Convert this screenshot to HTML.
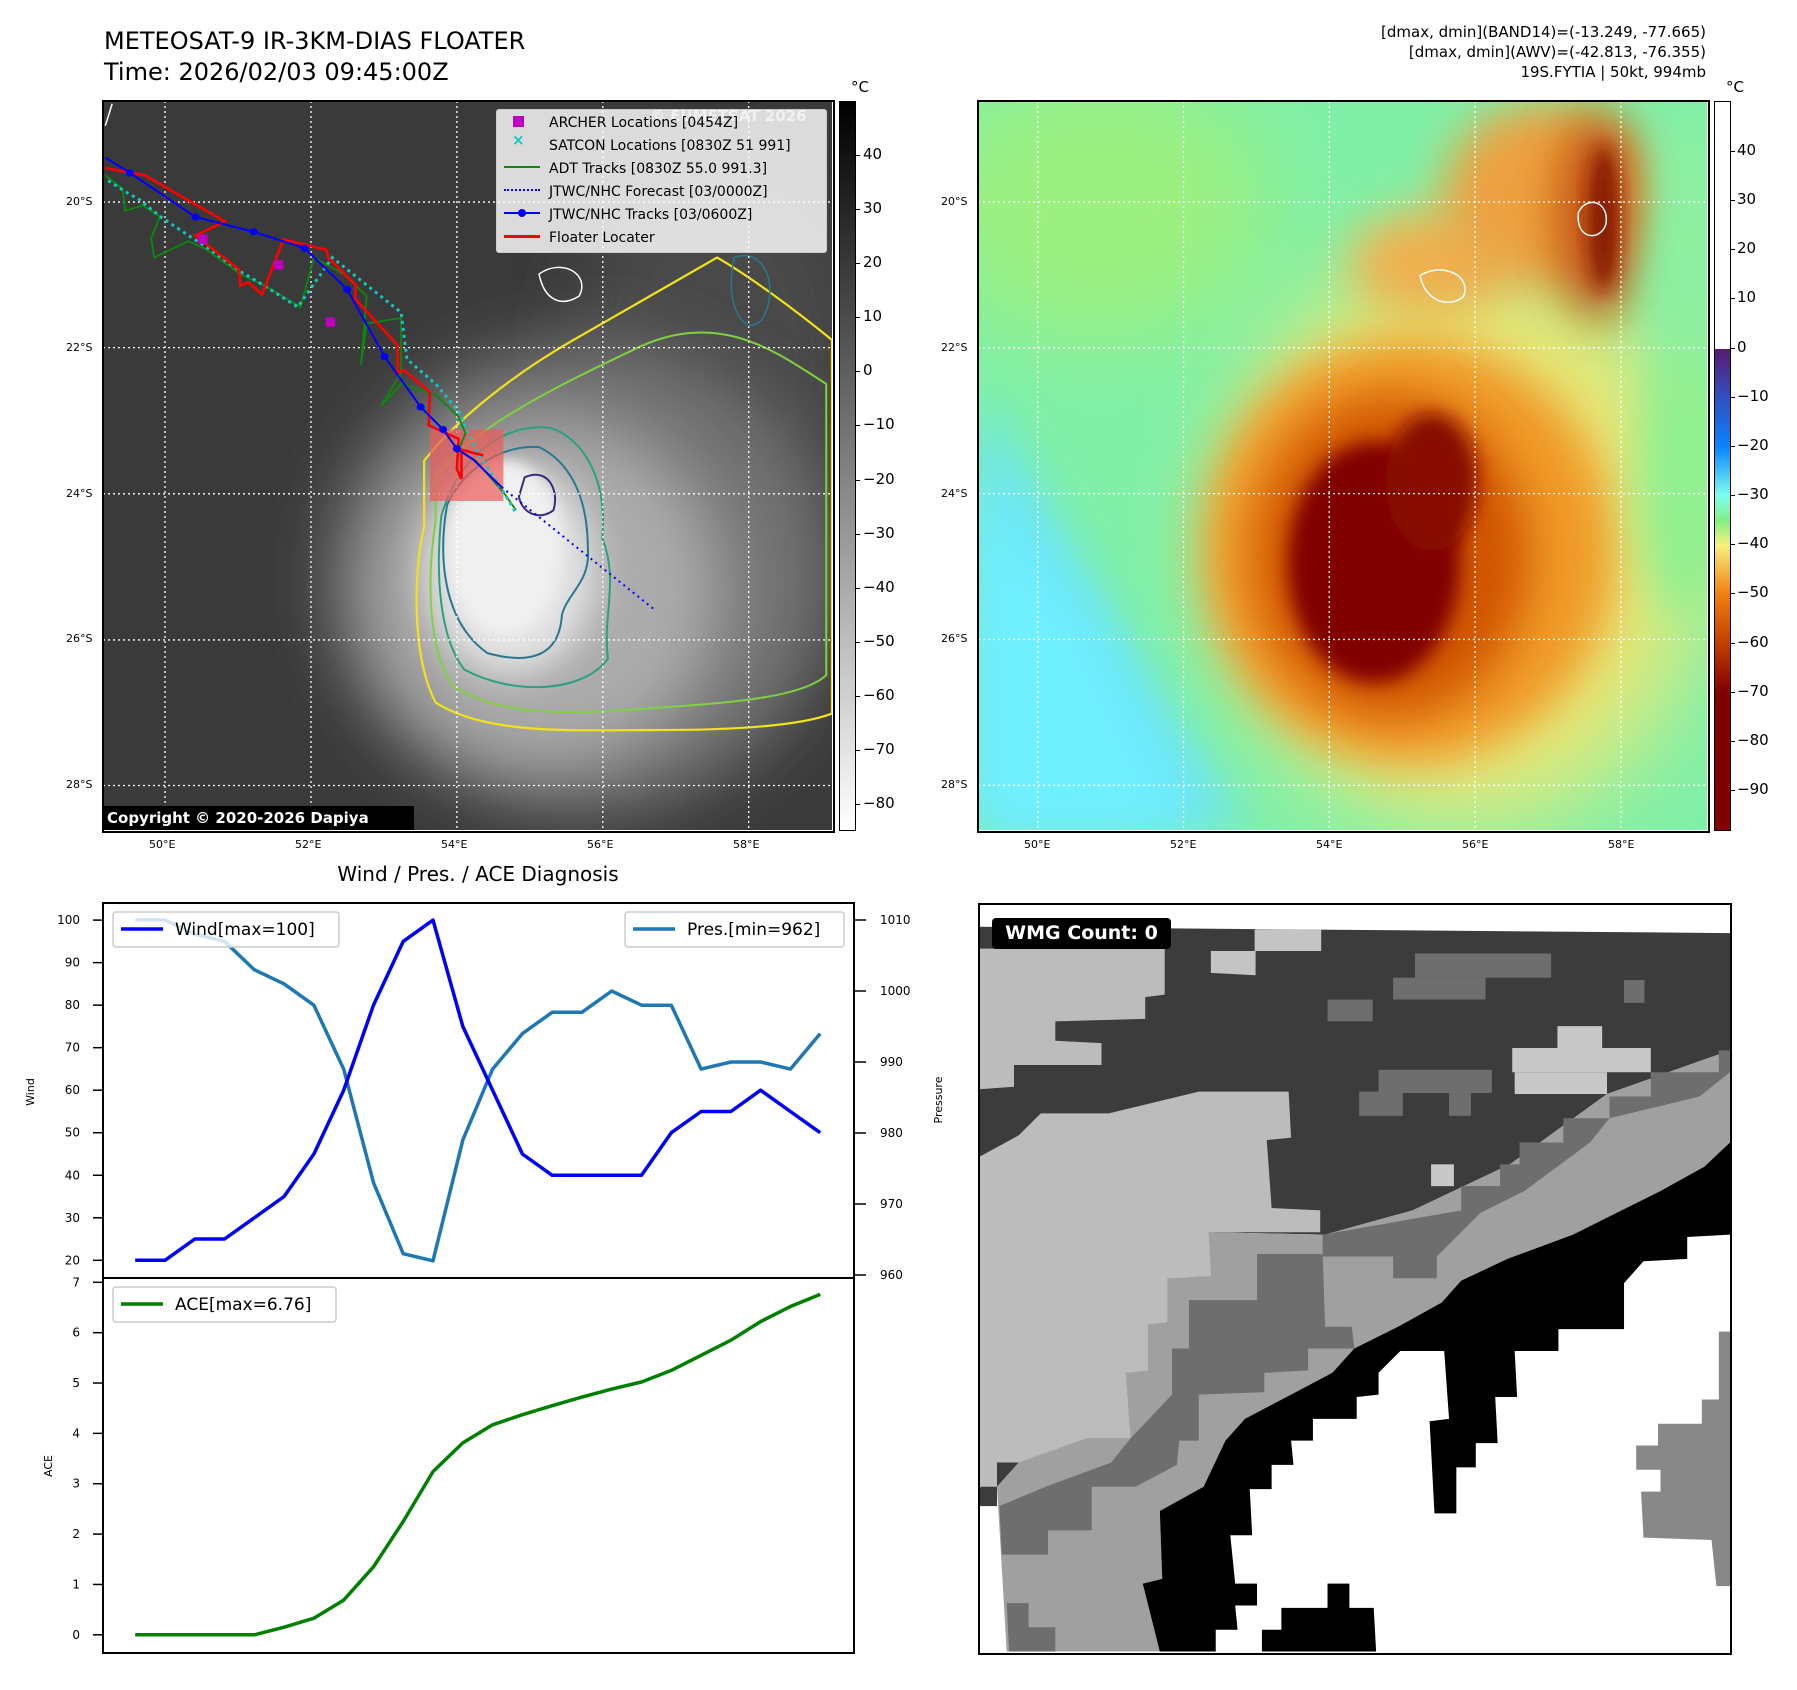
<!DOCTYPE html>
<html><head><meta charset="utf-8">
<style>
html,body{margin:0;padding:0;background:#fff;}
body{width:1797px;height:1690px;position:relative;overflow:hidden;font-family:"Liberation Sans","DejaVu Sans",sans-serif;color:#000;}
.abs{position:absolute;}
.t{position:absolute;white-space:nowrap;font-family:"DejaVu Sans","Liberation Sans",sans-serif;}
</style></head><body>

<div class="t" style="left:104px;top:26px;font-size:24px;line-height:31px;">METEOSAT-9 IR-3KM-DIAS FLOATER<br>Time: 2026/02/03 09:45:00Z</div>
<div class="t" style="right:91px;top:22px;font-size:15px;line-height:20px;text-align:right;">[dmax, dmin](BAND14)=(-13.249, -77.665)<br>[dmax, dmin](AWV)=(-42.813, -76.355)<br>19S.FYTIA | 50kt, 994mb</div>

<!-- LEFT MAP -->
<svg class="abs" style="left:103px;top:101px;" width="729" height="729" viewBox="181 185 1269 1327" preserveAspectRatio="none">
<defs>
<filter id="b60" x="-50%" y="-50%" width="200%" height="200%"><feGaussianBlur stdDeviation="60"/></filter>
<filter id="b30" x="-50%" y="-50%" width="200%" height="200%"><feGaussianBlur stdDeviation="30"/></filter>
<filter id="b12" x="-50%" y="-50%" width="200%" height="200%"><feGaussianBlur stdDeviation="12"/></filter>
</defs>
<rect x="181" y="185" width="1269" height="1327" fill="#3a3a3a"/>
<ellipse cx="1250" cy="650" rx="250" ry="350" fill="#4a4a4a" filter="url(#b60)"/>
<ellipse cx="1020" cy="1050" rx="440" ry="430" fill="#727272" filter="url(#b60)"/>
<ellipse cx="950" cy="1080" rx="310" ry="320" fill="#acacac" filter="url(#b60)"/>
<ellipse cx="890" cy="1040" rx="150" ry="190" fill="#e2e2e2" filter="url(#b30)"/>
<ellipse cx="880" cy="1000" rx="100" ry="160" fill="#f0f0f0" filter="url(#b12)"/>
<g fill="none">
<path d="M740,960 C720,1050 720,1200 760,1280 C850,1340 1000,1330 1150,1330 C1300,1330 1400,1320 1450,1300 L1450,620 C1380,560 1300,500 1250,470 C1200,500 1100,560 1000,620 C900,680 800,760 740,840 Z" stroke="#f2e21a" stroke-width="2.2" vector-effect="non-scaling-stroke"/>
<path d="M760,950 C745,1050 745,1180 790,1250 C880,1310 1010,1300 1140,1290 C1280,1280 1400,1270 1440,1230 L1440,700 C1350,640 1250,560 1100,640 C980,700 820,780 760,870 Z" stroke="#80d040" stroke-width="2" vector-effect="non-scaling-stroke"/>
<path d="M770,940 C760,1040 765,1160 810,1220 C900,1270 1020,1260 1060,1200 C1050,1120 1080,1060 1050,980 C1060,880 1020,800 960,780 C880,770 800,830 770,940 Z" stroke="#2aa082" stroke-width="2" vector-effect="non-scaling-stroke"/>
<path d="M780,920 C765,1010 770,1130 850,1190 C920,1210 975,1200 980,1120 C990,1080 1030,1060 1025,1000 C1025,900 990,840 940,815 C880,810 810,850 780,920 Z" stroke="#2a7890" stroke-width="2" vector-effect="non-scaling-stroke"/>
<path d="M915,870 C960,850 975,900 965,930 C940,950 910,935 905,905 Z" stroke="#3a2a80" stroke-width="2" vector-effect="non-scaling-stroke"/>
<path d="M940,500 C980,470 1030,500 1010,540 C980,560 950,550 940,500 Z" stroke="#ffffff" stroke-width="1.5" vector-effect="non-scaling-stroke"/>
<path d="M1280,470 C1330,450 1360,520 1330,580 C1300,620 1260,560 1280,470 Z" stroke="#2a7890" stroke-width="1.5" vector-effect="non-scaling-stroke"/>
</g>
<g stroke="#fff" stroke-width="1.3" stroke-dasharray="2,3">
<line x1="289" y1="185" x2="289" y2="1512" vector-effect="non-scaling-stroke"/>
<line x1="543" y1="185" x2="543" y2="1512" vector-effect="non-scaling-stroke"/>
<line x1="797" y1="185" x2="797" y2="1512" vector-effect="non-scaling-stroke"/>
<line x1="1051" y1="185" x2="1051" y2="1512" vector-effect="non-scaling-stroke"/>
<line x1="1305" y1="185" x2="1305" y2="1512" vector-effect="non-scaling-stroke"/>
<line x1="181" y1="369" x2="1450" y2="369" vector-effect="non-scaling-stroke"/>
<line x1="181" y1="634" x2="1450" y2="634" vector-effect="non-scaling-stroke"/>
<line x1="181" y1="900" x2="1450" y2="900" vector-effect="non-scaling-stroke"/>
<line x1="181" y1="1166" x2="1450" y2="1166" vector-effect="non-scaling-stroke"/>
<line x1="181" y1="1431" x2="1450" y2="1431" vector-effect="non-scaling-stroke"/>
</g>
<rect x="750" y="783" width="128" height="130" fill="rgba(240,90,90,0.7)"/>
<polyline fill="none" stroke="#0a8a0a" stroke-width="1.8" vector-effect="non-scaling-stroke" points="185,320 215,345 220,385 250,375 280,395 265,435 270,470 330,440 360,455 420,500 460,520 525,560 548,470 600,500 640,540 630,665 640,590 700,580 700,680 665,740 700,700 760,720 800,760 812,790 800,820 830,840 880,900 900,930"/>
<polyline fill="none" stroke="#10c8c0" stroke-width="3" stroke-dasharray="3,4" vector-effect="non-scaling-stroke" points="190,330 220,350 245,365 280,395 330,430 360,450 420,495 460,520 520,560 580,470 640,520 700,570 710,655 760,700 800,750 830,820 880,900 900,935"/>
<polyline fill="none" stroke="#f00" stroke-width="2.6" vector-effect="non-scaling-stroke" points="185,307 253,320 393,404 342,430 418,492 420,521 434,515 458,537 495,437 570,456 573,470 621,520 620,545 694,630 694,680 705,675 750,715 748,775 800,800 797,855 805,873 805,820 843,830"/>
<polyline fill="none" stroke="#0000ff" stroke-width="2" vector-effect="non-scaling-stroke" points="185,288 228,316 342,396 443,423 532,453 606,528 671,650 734,742 773,783 797,818 826,838 875,888"/>
<g fill="#0000ff">
<ellipse cx="228" cy="316" rx="7" ry="6.5"/><ellipse cx="342" cy="396" rx="7" ry="6.5"/><ellipse cx="443" cy="423" rx="7" ry="6.5"/><ellipse cx="532" cy="453" rx="7" ry="6.5"/><ellipse cx="606" cy="528" rx="7" ry="6.5"/><ellipse cx="671" cy="650" rx="7" ry="6.5"/><ellipse cx="734" cy="742" rx="7" ry="6.5"/><ellipse cx="773" cy="783" rx="7" ry="6.5"/><ellipse cx="797" cy="818" rx="7" ry="6.5"/>
</g>
<line x1="875" y1="888" x2="1140" y2="1110" stroke="#0000ff" stroke-width="2" stroke-dasharray="2,4" vector-effect="non-scaling-stroke"/>
<g fill="#c000c0"><rect x="479" y="475" width="16" height="17"/><rect x="569" y="579" width="16" height="17"/><rect x="347" y="428" width="16" height="17"/></g>
<path d="M197,190 L185,230" stroke="#fff" stroke-width="1.5" vector-effect="non-scaling-stroke"/>
</svg>

<div class="t" style="left:650px;top:107px;font-size:15px;font-weight:bold;color:rgba(255,255,255,0.6);">© EUMETSAT 2026</div>
<div class="abs" style="left:496px;top:109px;width:329px;height:142px;background:rgba(255,255,255,0.82);border:1px solid #ccc;border-radius:3px;"></div>
<div class="abs" style="left:513px;top:116px;width:11px;height:11px;background:#c000c0;"></div>
<div class="t" style="left:512px;top:131px;font-size:15px;color:#10c8c0;font-weight:bold;">×</div>
<div class="abs" style="left:504px;top:166px;width:36px;height:2px;background:#0a8a0a;"></div>
<div class="abs" style="left:504px;top:189px;width:36px;height:0;border-top:2px dotted #00f;"></div>
<div class="abs" style="left:504px;top:212px;width:36px;height:2px;background:#00f;"></div>
<div class="abs" style="left:518px;top:209px;width:8px;height:8px;border-radius:50%;background:#00f;"></div>
<div class="abs" style="left:504px;top:235px;width:36px;height:3px;background:#f00;"></div>
<div class="t" style="left:549px;top:112px;font-size:14px;line-height:23px;">ARCHER Locations [0454Z]<br>SATCON Locations [0830Z 51 991]<br>ADT Tracks [0830Z 55.0 991.3]<br>JTWC/NHC Forecast [03/0000Z]<br>JTWC/NHC Tracks [03/0600Z]<br>Floater Locater</div>
<div class="t" style="left:103px;top:806px;height:24px;width:311px;background:#000;color:#fff;font-weight:bold;font-size:15px;line-height:24px;padding-left:4px;box-sizing:border-box;">Copyright © 2020-2026 Dapiya</div>
<div class="abs" style="left:102px;top:100px;width:729px;height:729px;border:2px solid #000;"></div>

<div class="abs" style="left:839px;top:101px;width:15px;height:728px;border:1px solid #000;background:linear-gradient(#000,#fff);"></div>
<div class="t" style="left:851px;top:78px;font-size:15px;">°C</div>

<!-- RIGHT MAP -->
<svg class="abs" style="left:978px;top:101px;" width="729" height="729" viewBox="855 88 635 635" preserveAspectRatio="none">
<defs>
<filter id="c40" x="-50%" y="-50%" width="200%" height="200%"><feGaussianBlur stdDeviation="40"/></filter>
<filter id="c20" x="-50%" y="-50%" width="200%" height="200%"><feGaussianBlur stdDeviation="20"/></filter>
<filter id="c8" x="-50%" y="-50%" width="200%" height="200%"><feGaussianBlur stdDeviation="8"/></filter>
</defs>
<rect x="855" y="88" width="635" height="635" fill="#80f0a8"/>
<ellipse cx="960" cy="180" rx="150" ry="120" fill="#9cf080" filter="url(#c40)"/>
<polygon points="855,340 920,450 1010,600 1090,723 855,723" fill="#6ce4f8" filter="url(#c20)"/>
<polygon points="855,420 960,560 1040,723 855,723" fill="#70f0ff" filter="url(#c20)"/>
<ellipse cx="1280" cy="470" rx="210" ry="250" fill="#e8e878" filter="url(#c40)"/>
<ellipse cx="1250" cy="230" rx="70" ry="45" fill="#f0b050" filter="url(#c20)"/>
<ellipse cx="1350" cy="170" rx="90" ry="80" fill="#eea040" filter="url(#c20)"/>
<ellipse cx="1230" cy="480" rx="180" ry="185" fill="#f09a28" filter="url(#c20)"/>
<ellipse cx="1215" cy="485" rx="120" ry="140" fill="#d05400" filter="url(#c20)"/>
<ellipse cx="1200" cy="490" rx="75" ry="105" fill="#800000" filter="url(#c8)"/>
<ellipse cx="1250" cy="420" rx="40" ry="60" fill="#880800" filter="url(#c8)"/>
<ellipse cx="1395" cy="190" rx="35" ry="90" fill="#c05010" filter="url(#c20)"/>
<ellipse cx="1400" cy="190" rx="12" ry="65" fill="#801800" filter="url(#c8)"/>
<ellipse cx="1475" cy="220" rx="30" ry="120" fill="#90f0a0" filter="url(#c20)"/>
<ellipse cx="1470" cy="420" rx="40" ry="120" fill="#90f090" filter="url(#c20)"/>
<path d="M1240,240 C1260,228 1285,240 1278,258 C1268,268 1245,265 1240,240 Z" fill="none" stroke="#fff" stroke-width="1.5" vector-effect="non-scaling-stroke"/>
<path d="M1378,185 C1385,170 1405,175 1402,195 C1398,210 1375,210 1378,185 Z" fill="none" stroke="#fff" stroke-width="1.5" vector-effect="non-scaling-stroke"/>
<g stroke="#fff" stroke-width="1.3" stroke-dasharray="2,3">
<line x1="907" y1="88" x2="907" y2="723" vector-effect="non-scaling-stroke"/>
<line x1="1034" y1="88" x2="1034" y2="723" vector-effect="non-scaling-stroke"/>
<line x1="1161" y1="88" x2="1161" y2="723" vector-effect="non-scaling-stroke"/>
<line x1="1288" y1="88" x2="1288" y2="723" vector-effect="non-scaling-stroke"/>
<line x1="1415" y1="88" x2="1415" y2="723" vector-effect="non-scaling-stroke"/>
<line x1="855" y1="176" x2="1490" y2="176" vector-effect="non-scaling-stroke"/>
<line x1="855" y1="303" x2="1490" y2="303" vector-effect="non-scaling-stroke"/>
<line x1="855" y1="430" x2="1490" y2="430" vector-effect="non-scaling-stroke"/>
<line x1="855" y1="557" x2="1490" y2="557" vector-effect="non-scaling-stroke"/>
<line x1="855" y1="684" x2="1490" y2="684" vector-effect="non-scaling-stroke"/>
</g>
</svg>
<div class="abs" style="left:977px;top:100px;width:729px;height:729px;border:2px solid #000;"></div>
<div class="abs" style="left:1714px;top:101px;width:15px;height:728px;border:1px solid #000;background:linear-gradient(#fff 0%,#fff 33.9%,#5a1a70 33.9%,#3050c0 40.6%,#0a84ff 47.4%,#7ffff0 54.1%,#80f080 57.5%,#f8f080 60.9%,#f08010 67.6%,#c04000 74.4%,#800000 81.1%,#800000 100%);"></div>
<div class="t" style="left:1726px;top:78px;font-size:15px;">°C</div>

<!-- BOTTOM-RIGHT WMG -->
<svg class="abs" style="left:979px;top:904px;" width="751" height="749" viewBox="8 8 1545 1545" preserveAspectRatio="none">
<rect x="8" y="8" width="1545" height="1545" fill="#fff"/>
<polygon fill="#3c3c3c" points="8,55 1553,68 1553,310 1300,400 1100,545 900,640 720,690 480,685 395,780 355,875 310,975 320,1110 230,1110 90,1160 45,1210 45,1250 8,1250"/>
<polygon fill="#bcbcbc" points="8,100 390,100 390,195 350,200 350,245 165,250 165,290 260,295 260,340 80,340 80,385 8,390"/>
<polygon fill="#c4c4c4" points="485,105 575,105 575,60 712,60 712,105 577,105 577,155 485,150"/>
<polygon fill="#bcbcbc" points="8,530 90,485 135,440 230,440 275,440 460,395 645,395 650,490 600,495 610,635 710,640 710,685 480,685 485,775 395,780 395,870 355,875 355,970 310,975 320,1110 230,1110 90,1160 45,1160 45,1210 20,1210 8,1210"/>
<polygon fill="#a0a0a0" points="1553,310 1553,500 1500,550 1410,600 1320,645 1230,690 1095,740 1000,785 960,830 870,880 780,925 735,975 650,1020 555,1070 515,1115 470,1210 380,1260 385,1400 345,1410 400,1550 65,1550 45,1210 90,1160 230,1110 320,1110 310,975 355,970 355,875 395,870 395,780 485,775 480,685 720,690 900,640 1100,545 1300,400"/>
<polygon fill="#6e6e6e" points="715,690 1000,640 1000,590 1080,590 1080,545 1120,545 1120,500 1210,500 1210,450 1305,450 1305,405 1390,405 1390,355 1530,355 1530,310 1553,310 1553,355 1490,405 1305,450 1265,500 1130,600 1040,645 995,690 950,735 950,780 860,780 860,735 715,735"/>
<polygon fill="#6e6e6e" points="440,825 580,825 580,730 715,730 720,880 775,880 780,925 685,925 685,970 595,975 595,1015 460,1020 460,1115 420,1115 415,1165 330,1210 240,1210 240,1300 150,1300 150,1350 55,1350 50,1250 145,1210 280,1160 320,1110 405,1020 405,925 440,925"/>
<polygon fill="#6e6e6e" points="65,1450 110,1450 110,1500 165,1500 165,1550 70,1550"/>
<polygon fill="#000" points="380,1550 345,1410 385,1400 380,1260 470,1210 515,1115 555,1070 650,1020 735,975 780,925 870,880 960,830 1000,785 1095,740 1230,690 1320,645 1410,600 1500,550 1553,500 1553,690 1465,695 1465,740 1375,745 1335,790 1335,885 1200,885 1200,930 1110,930 1115,1025 1070,1025 1075,1120 1030,1120 1030,1170 990,1170 990,1265 945,1265 935,1075 975,1070 965,930 875,930 830,975 830,1020 785,1025 785,1070 695,1070 695,1115 650,1115 655,1165 610,1165 610,1215 565,1215 570,1310 525,1310 535,1410 580,1410 580,1455 535,1455 540,1505 495,1505 495,1550"/>
<polygon fill="#000" points="630,1460 725,1460 725,1410 770,1410 770,1460 820,1460 825,1550 590,1550 590,1505 630,1505"/>
<polygon fill="#888" points="1495,1030 1553,1030 1553,1415 1525,1415 1515,1320 1375,1315 1370,1220 1410,1220 1410,1175 1360,1175 1360,1125 1405,1125 1405,1080 1495,1080"/>
<polygon fill="#888" points="1530,890 1553,890 1553,1030 1530,1030"/>
<g fill="#6e6e6e"><rect x="905" y="110" width="280" height="50"/><rect x="860" y="160" width="190" height="45"/><rect x="725" y="205" width="93" height="45"/><rect x="1335" y="165" width="42" height="47"/><rect x="830" y="350" width="233" height="48"/><rect x="790" y="395" width="90" height="50"/><rect x="975" y="398" width="45" height="47"/></g>
<g fill="#c8c8c8"><rect x="1105" y="305" width="285" height="50"/><rect x="1198" y="260" width="92" height="45"/><rect x="1110" y="355" width="190" height="45"/><rect x="938" y="545" width="47" height="45"/></g>
</svg>
<div class="abs" style="left:978px;top:903px;width:750px;height:748px;border:2px solid #000;"></div>
<div class="t" style="left:992px;top:918px;width:179px;height:31px;background:#000;color:#fff;border-radius:4px;font-weight:bold;font-size:19px;line-height:31px;text-align:center;">WMG Count: 0</div>

<!-- BOTTOM-LEFT CHART -->
<div class="t" style="left:278px;top:862px;width:400px;text-align:center;font-size:20px;">Wind / Pres. / ACE Diagnosis</div>
<svg class="abs" id="chart" style="left:0;top:880px;" width="1000" height="800" viewBox="0 880 1000 800"></svg>

<script>
const wind=[20,20,25,25,30,35,45,60,80,95,100,75,60,45,40,40,40,40,50,55,55,60,55,50];
const pres=[1010,1010,1008,1007,1003,1001,998,989,973,963,962,979,989,994,997,997,1000,998,998,989,990,990,989,994];
const ace=[0,0,0,0,0,0.15,0.33,0.69,1.35,2.25,3.24,3.81,4.17,4.37,4.55,4.72,4.88,5.02,5.25,5.55,5.85,6.22,6.52,6.76];
const windTicks=[20,30,40,50,60,70,80,90,100];
const presTicks=[960,970,980,990,1000,1010];
const aceTicks=[0,1,2,3,4,5,6,7];
const irTicks=[40,30,20,10,0,-10,-20,-30,-40,-50,-60,-70,-80];
const awvTicks=[40,30,20,10,0,-10,-20,-30,-40,-50,-60,-70,-80,-90];
const lonLabels=["50°E","52°E","54°E","56°E","58°E"];
const latLabels=["20°S","22°S","24°S","26°S","28°S"];

const X0=135.2,X1=820.2;
function xs(i){return X0+i*(X1-X0)/(wind.length-1);}
function yW(v){return 1260.3+(v-20)*(920.1-1260.3)/80;}
function yP(v){return 1275+(v-960)*(920-1275)/50;}
function yA(v){return 1634.8+v*(1282.3-1634.8)/7;}
function yIR(v){return 804+(v+80)*(155-804)/120;}
function yAWV(v){return 790+(v+90)*(151-790)/130;}
function xLon(i){return 165+i*146;}
function yLat(i){return 202+i*145.75;}

const NS='http://www.w3.org/2000/svg';
const svg=document.getElementById('chart');
function mk(tag,attrs){const e=document.createElementNS(NS,tag);for(const k in attrs)e.setAttribute(k,attrs[k]);svg.appendChild(e);return e;}
let r1=mk('rect',{x:103,y:903,width:751,height:375,fill:'none',stroke:'#000','stroke-width':2});


let r2=mk('rect',{x:103,y:1278,width:751,height:375,fill:'none',stroke:'#000','stroke-width':2});


function tickLeft(y,label,name){
  let l=mk('line',{x1:93,y1:y,x2:103,y2:y,stroke:'#000','stroke-width':1.5});
  
  
  let t=mk('text',{x:80,y:y+4,'font-size':12,'text-anchor':'end','font-family':'DejaVu Sans, Liberation Sans, sans-serif'});
  t.textContent=label;
  
  
}
windTicks.forEach(v=>tickLeft(yW(v),v,'wind'));
aceTicks.forEach(v=>tickLeft(yA(v),v,'ace'));
presTicks.forEach(v=>{
  let y=yP(v);
  let l=mk('line',{x1:854,y1:y,x2:866,y2:y,stroke:'#000','stroke-width':1.5});
  
  
  let t=mk('text',{x:880,y:y+4,'font-size':12,'font-family':'DejaVu Sans, Liberation Sans, sans-serif'});
  t.textContent=v;
  
  
});
function ylab(x,y,txt,name){
  let t=mk('text',{x:x,y:y,'font-size':11,'text-anchor':'middle',transform:'rotate(-90 '+x+' '+y+')','font-family':'DejaVu Sans, Liberation Sans, sans-serif'});
  t.textContent=txt;
  
  
}
ylab(34,1092,'Wind','wind-axis-title');
ylab(942,1100,'Pressure','pressure-axis-title');
ylab(52,1466,'ACE','ace-axis-title');
function line(arr,yf,color,name){
  let p=mk('polyline',{points:arr.map((v,i)=>xs(i).toFixed(1)+','+yf(v).toFixed(1)).join(' '),fill:'none',stroke:color,'stroke-width':3.5,'stroke-linejoin':'round'});
  
  
}
line(pres,yP,'#1f77b4','pressure-line');
line(wind,yW,'#0000ff','wind-line');
line(ace,yA,'#008000','ace-line');
function legend(x,y,w,color,txt,name){
  let b=mk('rect',{x:x,y:y,width:w,height:35,rx:3,fill:'rgba(255,255,255,0.8)',stroke:'#ccc','stroke-width':1.5});
  
  
  let l=mk('line',{x1:x+8,y1:y+17,x2:x+50,y2:y+17,stroke:color,'stroke-width':3.5});
  
  
  let t=mk('text',{x:x+62,y:y+23,'font-size':17,'font-family':'DejaVu Sans, Liberation Sans, sans-serif'});
  t.textContent=txt;
  
  
}
legend(113,912,226,'#0000ff','Wind[max=100]','wind-legend');
legend(625,912,219,'#1f77b4','Pres.[min=962]','pressure-legend');
legend(113,1287,223,'#008000','ACE[max=6.76]','ace-legend');

function addDiv(html,style,name){
  const d=document.createElement('div');
  d.className='t';
  d.style.cssText=style;
  d.textContent=html;
  
  
  document.body.appendChild(d);
}
irTicks.forEach(v=>{
  const y=yIR(v);
  addDiv('','left:855px;top:'+y+'px;width:5px;height:1px;background:#000;','ir-colorbar-tick');
  addDiv(String(v).replace('-','\u2212'),'left:863px;top:'+(y-10)+'px;font-size:15px;','ir-colorbar-tick-label');
});
awvTicks.forEach(v=>{
  const y=yAWV(v);
  addDiv('','left:1730px;top:'+y+'px;width:5px;height:1px;background:#000;','awv-colorbar-tick');
  addDiv(String(v).replace('-','\u2212'),'left:1737px;top:'+(y-10)+'px;font-size:15px;','awv-colorbar-tick-label');
});
[0,875].forEach(off=>{
  lonLabels.forEach((s,i)=>{
    addDiv(s,'left:'+(xLon(i)+off-16)+'px;top:838px;font-size:11px;','lon-tick-label');
  });
  latLabels.forEach((s,i)=>{
    addDiv(s,'left:'+(off+66)+'px;top:'+(yLat(i)-7)+'px;font-size:11px;','lat-tick-label');
  });
});
</script>
</body></html>
